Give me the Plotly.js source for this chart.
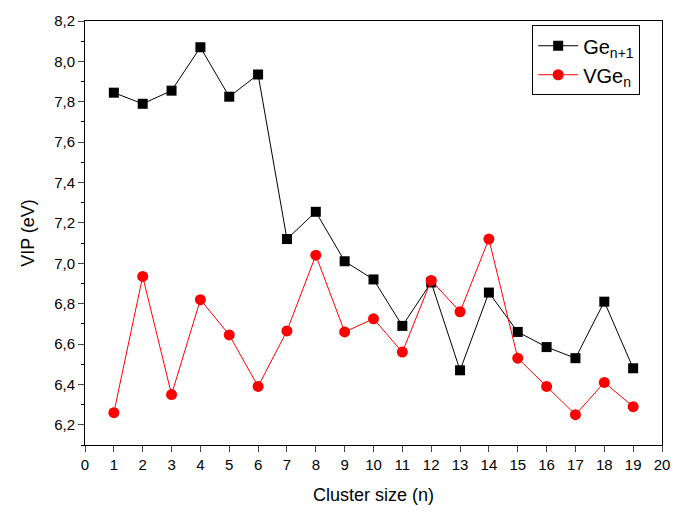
<!DOCTYPE html>
<html><head><meta charset="utf-8">
<script src="https://cdn.plot.ly/plotly-3.0.1.min.js"></script>
<style>body{margin:0;background:#fff}#c{width:675px;height:514px}</style>
</head><body><div id="c"></div>
<script>
var clusterSize = [1,2,3,4,5,6,7,8,9,10,11,12,13,14,15,16,17,18,19];
var vipGe = [7.845,7.79,7.855,8.07,7.825,7.935,7.12,7.255,7.01,6.92,6.69,6.905,6.47,6.855,6.66,6.585,6.53,6.81,6.48];
var vipVGe = [6.26,6.935,6.35,6.82,6.645,6.39,6.665,7.04,6.66,6.725,6.56,6.915,6.76,7.12,6.53,6.39,6.25,6.41,6.29];
var xTickVals = [0,1,2,3,4,5,6,7,8,9,10,11,12,13,14,15,16,17,18,19,20];

var font = 'Liberation Sans, Arial, sans-serif';
var traces = [
  {x: clusterSize, y: vipGe, mode: 'lines+markers', name: 'Ge<sub>n+1</sub>',
   line: {color: '#000', width: 1}, marker: {symbol: 'square', size: 10, color: '#000'}},
  {x: clusterSize, y: vipVGe, mode: 'lines+markers', name: 'VGe<sub>n</sub>',
   line: {color: '#ff0000', width: 1}, marker: {symbol: 'circle', size: 11, color: '#ff0000'}}
];
var layout = {
  width: 675, height: 514,
  margin: {l: 85, r: 13, t: 21, b: 69},
  separators: ',.',
  paper_bgcolor: '#fff', plot_bgcolor: '#fff',
  font: {family: font, color: '#000'},
  showlegend: true,
  legend: {x: 0.775, y: 0.99, xanchor: 'left', yanchor: 'top', bordercolor: '#000', borderwidth: 1,
           bgcolor: '#fff', font: {family: font, size: 20}, tracegroupgap: 0, itemwidth: 40},
  xaxis: {range: [0, 20], tickvals: xTickVals, ticks: 'outside', ticklen: 6, tickwidth: 1,
          showline: true, linecolor: '#000', linewidth: 1, mirror: true, showgrid: false, zeroline: false,
          tickfont: {family: font, size: 15},
          title: {text: 'Cluster size (n)', font: {family: font, size: 18}, standoff: 16}},
  yaxis: {range: [6.1, 8.2], dtick: 0.2, tick0: 6.2, tickformat: '.1f', ticks: 'outside', ticklen: 6, tickwidth: 1,
          minor: {dtick: 0.1, ticks: 'outside', ticklen: 3, tickcolor: '#000', showgrid: false},
          showline: true, linecolor: '#000', linewidth: 1, mirror: true, showgrid: false, zeroline: false,
          tickfont: {family: font, size: 15},
          title: {text: 'VIP (eV)', font: {family: font, size: 18}, standoff: 14}}
};
Plotly.newPlot('c', traces, layout, {displayModeBar: false});
</script></body></html>
